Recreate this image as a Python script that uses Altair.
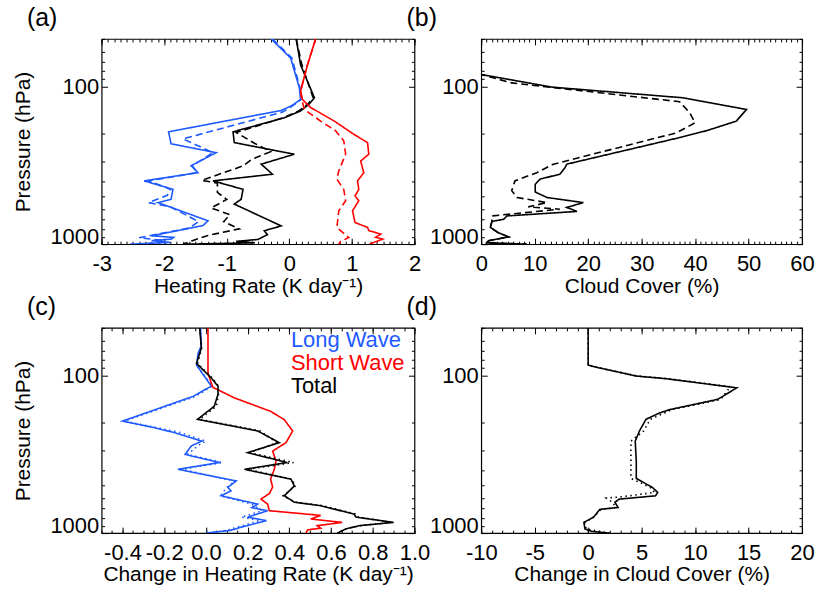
import altair as alt
import pandas as pd
import numpy as np

FONT = "Liberation Sans"
BLUE = "#1e5aff"
RED = "#ff0000"
BLACK = "#000000"

# ---------------- Panel (a): heating rates (K/day) ----------------
a_lw_solid_p = [50, 66, 102, 121, 133, 142, 194, 231, 263, 318, 352, 397, 449, 519, 545, 711, 762, 885, 905, 929, 950, 975, 1000]
a_lw_solid_v = [-0.29, 0.02, 0.16, 0.18, 0.03, -0.13, -1.93, -1.89, -1.17, -1.57, -1.46, -2.32, -1.86, -1.89, -2.10, -1.30, -1.38, -2.20, -1.85, -1.89, -2.20, -1.90, -2.55]
a_lw_dash_p = [50, 66, 102, 121, 133, 145, 215, 263, 318, 352, 397, 449, 490, 545, 580, 720, 790, 910, 950, 1000]
a_lw_dash_v = [-0.27, 0.04, 0.17, 0.19, 0.05, -0.10, -1.70, -1.22, -1.55, -1.47, -2.25, -1.90, -1.95, -2.25, -1.90, -1.45, -1.60, -2.40, -2.00, -2.30]
a_tot_solid_p = [50, 73, 118, 129, 143, 158, 194, 227, 269, 311, 360, 397, 449, 519, 557, 766, 822, 870, 933, 960, 980, 1000]
a_tot_solid_v = [0.11, 0.18, 0.40, 0.32, 0.18, -0.08, -0.90, -0.88, 0.08, -0.45, -0.27, -1.22, -0.74, -0.77, -0.88, -0.13, -0.40, -0.35, -0.50, -0.85, -0.55, -1.65]
a_tot_dash_p = [50, 73, 118, 129, 143, 158, 196, 230, 259, 290, 319, 394, 410, 470, 520, 590, 650, 720, 800, 880, 950, 1000]
a_tot_dash_v = [0.11, 0.20, 0.38, 0.30, 0.15, -0.10, -0.85, -0.55, -0.30, -0.60, -0.74, -1.40, -1.15, -1.15, -1.00, -1.25, -0.95, -1.05, -0.80, -1.30, -1.55, -1.70]
a_sw_solid_p = [50, 73, 107, 121, 136, 166, 201, 227, 269, 297, 352, 397, 450, 494, 530, 614, 729, 783, 820, 863, 905, 930, 975, 1000]
a_sw_solid_v = [0.42, 0.29, 0.18, 0.21, 0.34, 0.72, 1.03, 1.25, 1.27, 1.14, 1.19, 1.09, 1.11, 1.05, 1.11, 1.01, 1.05, 1.25, 1.27, 1.46, 1.38, 1.49, 1.35, 1.28]
a_sw_dash_p = [50, 73, 107, 121, 140, 166, 191, 221, 269, 343, 387, 450, 531, 614, 783, 908, 960, 1000]
a_sw_dash_v = [0.42, 0.29, 0.18, 0.20, 0.24, 0.50, 0.74, 0.87, 0.90, 0.79, 0.76, 0.87, 0.90, 0.79, 0.76, 0.95, 0.82, 0.79]

# ---------------- Panel (b): cloud cover (%) ----------------
b_solid_p = [50, 84, 101, 118, 140, 166, 191, 211, 311, 330, 360, 387, 417, 467, 506, 545, 585, 620, 662, 695, 718, 783, 846, 899, 950, 980, 1000]
b_solid_v = [0, 0, 13.2, 37.7, 49.6, 47.7, 42.1, 37.1, 16.0, 15.6, 14.7, 11.0, 10.1, 10.1, 12.3, 19.1, 16.0, 17.9, 4.8, 4.2, 2.0, 1.7, 3.2, 5.1, 1.4, 1.0, 8.5]
b_dash_p = [50, 84, 95, 125, 147, 170, 197, 311, 352, 397, 458, 506, 545, 580, 600, 662, 718, 783, 846, 899, 950, 980, 1000]
b_dash_v = [0, 0, 5.7, 37.1, 39.0, 40.0, 36.5, 13.5, 10.4, 6.3, 5.7, 6.7, 12.3, 8.8, 14.7, 2.0, 2.0, 1.7, 3.2, 5.1, 1.4, 1.0, 8.5]

# ---------------- Panel (c): change in heating rate (K/day) ----------------
c_lw_solid_p = [50, 65, 72, 86, 117, 136, 195, 215, 231, 261, 280, 317, 357, 394, 467, 513, 540, 580, 655, 690, 721, 792, 833, 916, 960, 1000]
c_lw_solid_v = [-0.026, -0.022, -0.037, -0.045, 0.026, -0.062, -0.40, -0.245, -0.15, -0.02, -0.07, -0.10, 0.065, -0.134, 0.145, 0.105, 0.12, 0.073, 0.248, 0.22, 0.296, 0.20, 0.29, 0.17, 0.12, 0.0]
c_lw_dot_p = [50, 65, 86, 117, 136, 195, 215, 231, 261, 275, 317, 357, 394, 467, 513, 580, 655, 721, 792, 833, 916, 960, 1000]
c_lw_dot_v = [-0.026, -0.022, -0.045, 0.03, -0.05, -0.39, -0.23, -0.12, 0.0, -0.03, -0.09, 0.08, -0.12, 0.14, 0.10, 0.07, 0.22, 0.27, 0.17, 0.26, 0.15, 0.10, 0.0]
c_sw_solid_p = [50, 97, 119, 139, 169, 191, 225, 267, 302, 349, 394, 455, 510, 560, 609, 655, 721, 772, 814, 855, 897, 930, 954, 1000]
c_sw_solid_v = [0.01, 0.01, 0.033, 0.137, 0.31, 0.376, 0.416, 0.384, 0.32, 0.336, 0.328, 0.31, 0.32, 0.305, 0.264, 0.296, 0.304, 0.55, 0.503, 0.653, 0.534, 0.55, 0.487, 0.48]
c_tot_solid_p = [50, 67, 84, 104, 117, 132, 157, 190, 225, 267, 309, 357, 394, 455, 502, 580, 637, 670, 758, 792, 855, 897, 941, 1000]
c_tot_solid_v = [-0.03, -0.022, -0.045, 0.026, 0.058, 0.058, 0.04, -0.04, 0.248, 0.352, 0.20, 0.39, 0.185, 0.408, 0.424, 0.376, 0.424, 0.55, 0.71, 0.72, 0.90, 0.735, 0.67, 0.63]
c_tot_dot_p = [50, 67, 84, 104, 117, 132, 157, 190, 225, 267, 309, 357, 394, 455, 502, 580, 637, 670, 758, 792, 855, 897, 941, 1000]
c_tot_dot_v = [-0.03, -0.02, -0.04, 0.03, 0.06, 0.06, 0.05, -0.03, 0.26, 0.34, 0.21, 0.42, 0.20, 0.41, 0.43, 0.37, 0.43, 0.56, 0.72, 0.73, 0.89, 0.74, 0.67, 0.63]

# ---------------- Panel (d): change in cloud cover (%) ----------------
d_solid_p = [50, 86, 88, 101, 105, 120, 142, 165, 174, 190, 225, 261, 348, 450, 513, 552, 580, 609, 637, 688, 707, 792, 855, 940, 975, 1000]
d_solid_v = [0, 0, 0.5, 4.5, 7.3, 13.9, 12.1, 7.6, 6.6, 5.4, 4.8, 4.4, 4.5, 4.5, 6.0, 6.5, 6.3, 2.9, 2.5, 2.8, 1.1, 0.5, -0.4, -0.3, 0.3, 2.0]
d_dot_p = [50, 86, 88, 101, 105, 118, 142, 165, 190, 225, 261, 348, 450, 513, 552, 590, 600, 640, 688, 707, 792, 855, 940, 1000]
d_dot_v = [0, 0, 0.5, 4.6, 7.5, 13.3, 12.4, 7.8, 5.8, 5.2, 4.0, 4.0, 4.0, 5.8, 6.2, 3.0, 1.7, 2.3, 2.6, 1.2, 0.5, -0.3, -0.2, 2.0]

legend_labels = ["Long Wave", "Short Wave", "Total"]
legend_colors = [BLUE, RED, BLACK]

Y_MAJOR = [100, 1000]
Y_MINOR = [50, 60, 70, 80, 90, 200, 300, 400, 500, 600, 700, 800, 900]


def frame(series):
    rows = []
    for name, comp, style, ps, vs in series:
        for i, (p, v) in enumerate(zip(ps, vs)):
            rows.append({"s": name, "c": comp, "st": style, "i": i, "p": p, "v": v})
    return pd.DataFrame(rows)


color_scale = alt.Scale(domain=["LW", "SW", "TOT"], range=[BLUE, RED, BLACK])
dash_scale = alt.Scale(domain=["solid", "dash", "dot"], range=[[1, 0], [7, 4], [1.5, 3.5]])


def ticks(lo, hi, step):
    n = int(round((hi - lo) / step))
    return [round(lo + k * step, 4) for k in range(n + 1)]


def panel(df, xdom, xmaj, xmin, xtitle, ytitle, label, w, h, extra=()):
    xs = alt.Scale(domain=xdom, nice=False, zero=False)
    ys = alt.Scale(type="log", domain=[50, 1000], reverse=True, nice=False)
    ykw = dict(values=Y_MAJOR, orient="left", offset=-6, tickSize=6, format="d",
               labelPadding=3, labelFlush=True, labelFlushOffset=4, titlePadding=16)
    ykw["title"] = ytitle
    lines = alt.Chart(df).mark_line(strokeWidth=1.6, clip=True).encode(
        x=alt.X("v:Q", scale=xs, axis=alt.Axis(values=xmaj, orient="bottom", offset=-6, tickSize=6,
                                                labelPadding=9, labelFlush=False, labelOverlap=False,
                                                labelExpr="replace(datum.label, '\u2212', '-')",
                                                title=xtitle, titlePadding=1)),
        y=alt.Y("p:Q", scale=ys, axis=alt.Axis(**ykw)),
        color=alt.Color("c:N", scale=color_scale, legend=None),
        strokeDash=alt.StrokeDash("st:N", scale=dash_scale, legend=None),
        detail="s:N",
        order="i:Q",
    )

    def ghost(xax, yax):
        return alt.Chart(df).mark_point(opacity=0, size=1).encode(
            x=alt.X("v:Q", scale=xs, axis=xax),
            y=alt.Y("p:Q", scale=ys, axis=yax),
        )

    minor_bl = ghost(alt.Axis(values=xmin, orient="bottom", offset=-3, tickSize=3, labels=False, title=None),
                     alt.Axis(values=Y_MINOR, orient="left", offset=-3, tickSize=3, labels=False, title=None))
    major_tr = ghost(alt.Axis(values=xmaj, orient="top", offset=-6, tickSize=6, labels=False, title=None),
                     alt.Axis(values=Y_MAJOR, orient="right", offset=-6, tickSize=6, labels=False, title=None))
    minor_tr = ghost(alt.Axis(values=xmin, orient="top", offset=-3, tickSize=3, labels=False, title=None),
                     alt.Axis(values=Y_MINOR, orient="right", offset=-3, tickSize=3, labels=False, title=None))
    layers = [lines, minor_bl, major_tr, minor_tr] + list(extra)
    return alt.layer(*layers).resolve_axis(x="independent", y="independent").properties(
        width=w, height=h,
        title=alt.TitleParams(label, anchor="start", frame="group", dx=-75, offset=-13,
                              baseline="alphabetic", fontSize=25, fontWeight="normal", font=FONT),
    )


df_a = frame([
    ("lw_s", "LW", "solid", a_lw_solid_p, a_lw_solid_v),
    ("lw_d", "LW", "dash", a_lw_dash_p, a_lw_dash_v),
    ("tot_s", "TOT", "solid", a_tot_solid_p, a_tot_solid_v),
    ("tot_d", "TOT", "dash", a_tot_dash_p, a_tot_dash_v),
    ("sw_s", "SW", "solid", a_sw_solid_p, a_sw_solid_v),
    ("sw_d", "SW", "dash", a_sw_dash_p, a_sw_dash_v),
])
df_b = frame([
    ("cc_s", "TOT", "solid", b_solid_p, b_solid_v),
    ("cc_d", "TOT", "dash", b_dash_p, b_dash_v),
])
df_c = frame([
    ("lw_s", "LW", "solid", c_lw_solid_p, c_lw_solid_v),
    ("lw_o", "LW", "dot", c_lw_dot_p, c_lw_dot_v),
    ("sw_s", "SW", "solid", c_sw_solid_p, c_sw_solid_v),
    ("tot_s", "TOT", "solid", c_tot_solid_p, c_tot_solid_v),
    ("tot_o", "TOT", "dot", c_tot_dot_p, c_tot_dot_v),
])
df_d = frame([
    ("dc_s", "TOT", "solid", d_solid_p, d_solid_v),
    ("dc_o", "TOT", "dot", d_dot_p, d_dot_v),
])

legend_layers = []
for k, (lab, col) in enumerate(zip(legend_labels, legend_colors)):
    legend_layers.append(
        alt.Chart(pd.DataFrame({"t": [lab]})).mark_text(
            align="left", baseline="middle", fontSize=22, font=FONT, color=col
        ).encode(text="t:N", x=alt.value(190), y=alt.value(12 + 23 * k))
    )

W1, W2, H = 314, 322, 206
pa = panel(df_a, [-3, 2], ticks(-3, 2, 1), ticks(-3, 2, 0.1), "Heating Rate (K day\u207b\u00b9)",
           "Pressure (hPa)", "(a)", W1, H)
pb = panel(df_b, [0, 60], ticks(0, 60, 10), ticks(0, 60, 1), "Cloud Cover (%)", None, "(b)", W2, H)
pc = panel(df_c, [-0.5, 1.0], ticks(-0.4, 1.0, 0.2), ticks(-0.5, 1.0, 0.05),
           "Change in Heating Rate (K day\u207b\u00b9)", "Pressure (hPa)", "(c)", W1, H, legend_layers)
pd_ = panel(df_d, [-10, 20], ticks(-10, 20, 5), ticks(-10, 20, 1), "Change in Cloud Cover (%)", None,
            "(d)", W2, H)

chart = alt.concat(pa, pb, pc, pd_, columns=2, spacing=alt.RowColnumber(row=84, column=67),
                   bounds="flush").properties(
    padding={"left": 12, "top": 4, "right": 0, "bottom": 0},
    background="white",
).configure_axis(
    labelFont=FONT, titleFont=FONT, labelFontSize=22, titleFontSize=21, titleFontWeight="normal",
    labelColor="black", titleColor="black", tickColor="black", tickWidth=1, domain=False, grid=False,
).configure_view(stroke="black", strokeWidth=1.2).configure_title(color="black")

chart.save("out.html", embed_options={"renderer": "svg", "actions": False})
